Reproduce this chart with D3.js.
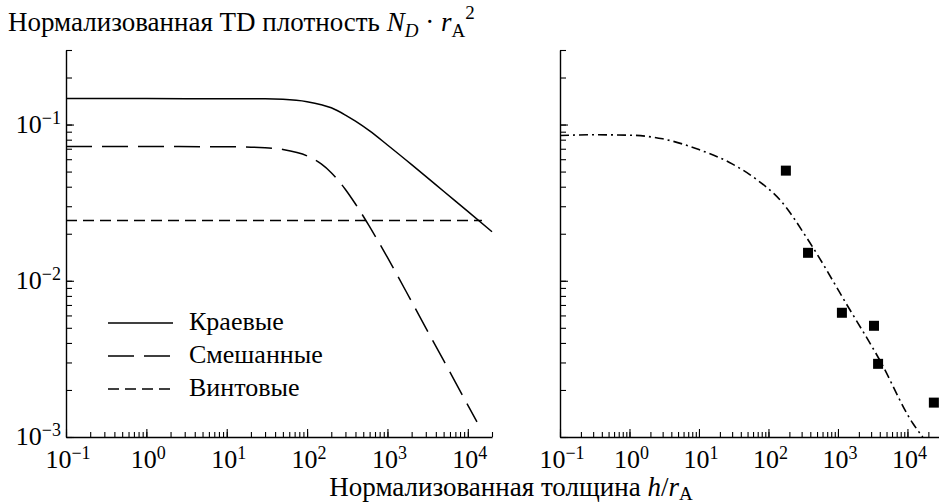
<!DOCTYPE html>
<html>
<head>
<meta charset="utf-8">
<script src="https://cdn.jsdelivr.net/npm/d3@7"></script>
<style>
  body { margin: 0; background: #fff; }
</style>
</head>
<body>
<div id="chart"></div>
<script>
var width = 939, height = 504;

// left panel: calculated curves
var hEdge = [0.1, 1, 10, 30, 50, 100, 150, 200, 300, 400, 600, 1000, 2000, 3000, 5000, 10000, 20000];
var edge = [0.147, 0.147, 0.146, 0.146, 0.145, 0.140, 0.134, 0.128, 0.115, 0.105, 0.091, 0.074, 0.0554, 0.0466, 0.0374, 0.0278, 0.0206];
var hMixed = [0.1, 1, 10, 30, 50, 100, 150, 200, 300, 400, 600, 1000, 2000, 3000, 5000, 10000, 13000];
var mixed = [0.0723, 0.0723, 0.0721, 0.0710, 0.0692, 0.0630, 0.0560, 0.0492, 0.0384, 0.0310, 0.0222, 0.0141, 0.00735, 0.0050, 0.00309, 0.0016, 0.00125];
var hScrew = [0.1, 15000];
var screw = [0.0243, 0.0243];

// right panel: fit curve and experiment
var hFit = [0.1, 0.3, 1, 3, 10, 30, 68, 146, 395, 1350, 4000, 12000, 16600];
var fit = [0.085, 0.086, 0.0855, 0.081, 0.0691, 0.056, 0.0444, 0.033, 0.0175, 0.0070, 0.0031, 0.00122, 0.001];
var hExp = [178, 371, 1140, 3300, 3780, 24000];
var expVals = [0.0507, 0.0151, 0.00624, 0.00515, 0.00294, 0.00166];

var xDecades = [0.1, 1, 10, 100, 1000, 10000];
var xTickExp = ["\u22121", "0", "1", "2", "3", "4"];
var yDecades = [0.1, 0.01, 0.001];
var yTickExp = ["\u22121", "\u22122", "\u22123"];
var legendNames = ["Краевые", "Смешанные", "Винтовые"];

var serif = "'Liberation Serif', 'DejaVu Serif', serif";

var svg = d3.select("#chart").append("svg")
    .attr("width", width)
    .attr("height", height)
    .attr("font-family", serif);

var y = d3.scaleLog().domain([1e-3, 0.3]).range([437, 50]);
var xL = d3.scaleLog().domain([0.1, 2e4]).range([66, 492]);
var xR = d3.scaleLog().domain([0.1, 3e4]).range([560, 940.6]);

function logTicks(dom) {
    var out = [];
    for (var k = -4; k <= 6; k++) {
        for (var m = 1; m <= 9; m++) {
            var v = m * Math.pow(10, k);
            if (v >= dom[0] * 0.999 && v <= dom[1] * 1.001) out.push(v);
        }
    }
    return out;
}

function styleAxis(g) {
    g.select(".domain").attr("stroke", "#000").attr("stroke-width", 1.4);
    g.selectAll(".tick line").attr("stroke", "#000").attr("stroke-width", 1.1);
}

function drawAxes(x, xMax) {
    var xt = logTicks([0.1, xMax]);
    var yt = logTicks(y.domain());

    svg.append("g")
        .attr("transform", "translate(0,437)")
        .call(d3.axisBottom(x).tickValues(xt).tickSizeInner(-5).tickSizeOuter(0).tickFormat(""))
        .call(styleAxis);
    svg.append("g")
        .attr("transform", "translate(0,437)")
        .call(d3.axisBottom(x).tickValues(xDecades).tickSizeInner(-8).tickSizeOuter(0).tickFormat(""))
        .call(styleAxis)
        .call(function (g) { g.select(".domain").remove(); });

    svg.append("g")
        .attr("transform", "translate(" + x.range()[0] + ",0)")
        .call(d3.axisLeft(y).tickValues(yt).tickSizeInner(-6).tickSizeOuter(0).tickFormat(""))
        .call(styleAxis);
    svg.append("g")
        .attr("transform", "translate(" + x.range()[0] + ",0)")
        .call(d3.axisLeft(y).tickValues(yDecades).tickSizeInner(-8).tickSizeOuter(0).tickFormat(""))
        .call(styleAxis)
        .call(function (g) { g.select(".domain").remove(); });

    // decade labels under the x axis
    xDecades.forEach(function (d, i) {
        var t = svg.append("text")
            .attr("x", x(d) + 2)
            .attr("y", 468)
            .attr("text-anchor", "middle")
            .attr("font-family", serif)
            .attr("font-size", 26);
        t.append("tspan").text("10");
        t.append("tspan").attr("dy", -9).attr("font-size", 18).text(xTickExp[i]);
    });
}

drawAxes(xL, 2e4);
drawAxes(xR, 3e4);

// y labels, left panel only
yDecades.forEach(function (d, i) {
    var t = svg.append("text")
        .attr("x", 61)
        .attr("y", y(d) + 8)
        .attr("text-anchor", "end")
        .attr("font-family", serif)
        .attr("font-size", 26);
    t.append("tspan").text("10");
    t.append("tspan").attr("dy", -9).attr("font-size", 18).text(yTickExp[i]);
});

var lineL = d3.line()
    .x(function (d) { return xL(d[0]); })
    .y(function (d) { return y(d[1]); })
    .curve(d3.curveMonotoneX);
var lineR = d3.line()
    .x(function (d) { return xR(d[0]); })
    .y(function (d) { return y(d[1]); })
    .curve(d3.curveMonotoneX);

var dashes = ["none", "26,10", "11,6"];
var leftSeries = [d3.zip(hEdge, edge), d3.zip(hMixed, mixed), d3.zip(hScrew, screw)];

leftSeries.forEach(function (s, i) {
    svg.append("path")
        .datum(s)
        .attr("d", lineL)
        .attr("fill", "none")
        .attr("stroke", "#000")
        .attr("stroke-width", 1.5)
        .attr("stroke-dasharray", dashes[i]);
});

svg.append("path")
    .datum(d3.zip(hFit, fit))
    .attr("d", lineR)
    .attr("fill", "none")
    .attr("stroke", "#000")
    .attr("stroke-width", 1.6)
    .attr("stroke-dasharray", "9,4,2,4");

svg.selectAll(".sq")
    .data(d3.zip(hExp, expVals))
    .enter().append("rect")
    .attr("class", "sq")
    .attr("x", function (d) { return xR(d[0]) - 5; })
    .attr("y", function (d) { return y(d[1]) - 5; })
    .attr("width", 10)
    .attr("height", 10)
    .attr("fill", "#000");

// legend
legendNames.forEach(function (name, i) {
    var ly = 323 + i * 33;
    svg.append("line")
        .attr("x1", 108).attr("x2", 173)
        .attr("y1", ly).attr("y2", ly)
        .attr("stroke", "#000")
        .attr("stroke-width", 1.5)
        .attr("stroke-dasharray", dashes[i]);
    svg.append("text")
        .attr("x", 189)
        .attr("y", ly + 7)
        .attr("font-family", serif)
        .attr("font-size", 26)
        .text(name);
});

// title
var title = svg.append("text")
    .attr("x", 8)
    .attr("y", 31)
    .attr("font-family", serif)
    .attr("font-size", 27);
title.append("tspan").text("Нормализованная TD плотность ");
title.append("tspan").attr("font-style", "italic").text("N");
title.append("tspan").attr("dy", 6).attr("font-size", 19).attr("font-style", "italic").text("D");
title.append("tspan").attr("dy", -6).text(" \u00b7 ");
title.append("tspan").attr("font-style", "italic").text("r");
title.append("tspan").attr("dy", 6).attr("font-size", 19).text("A");
title.append("tspan").attr("dy", -18).attr("font-size", 19).text("2");

// x label
var xl = svg.append("text")
    .attr("x", 511)
    .attr("y", 496)
    .attr("text-anchor", "middle")
    .attr("font-family", serif)
    .attr("font-size", 27);
xl.append("tspan").text("Нормализованная толщина ");
xl.append("tspan").attr("font-style", "italic").text("h");
xl.append("tspan").text("/");
xl.append("tspan").attr("font-style", "italic").text("r");
xl.append("tspan").attr("dy", 4).attr("font-size", 19).text("A");
</script>
</body>
</html>
